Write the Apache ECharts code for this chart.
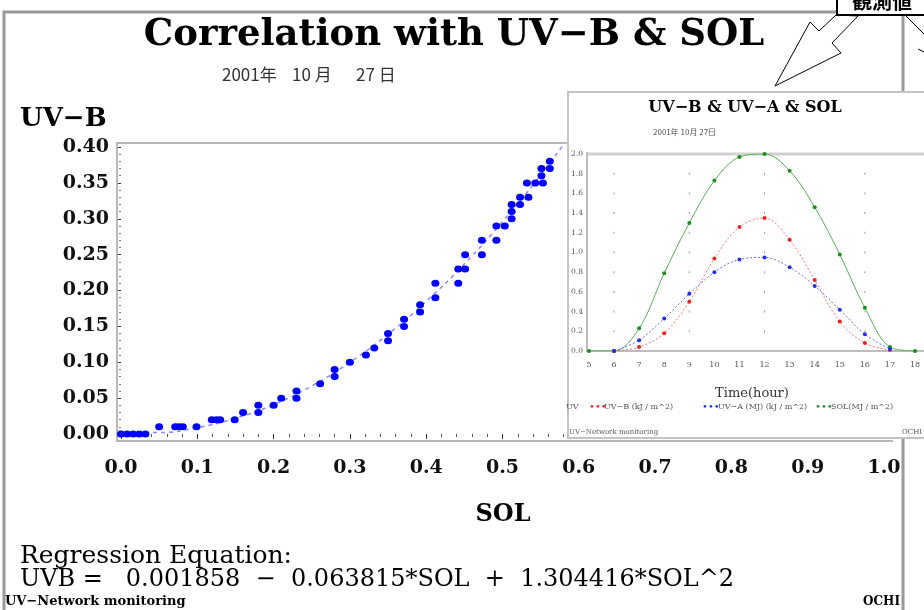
<!DOCTYPE html>
<html><head><meta charset="utf-8">
<script src="https://cdn.jsdelivr.net/npm/echarts@6/dist/echarts.min.js"></script>
<style>html,body{margin:0;padding:0;background:#fff}#c{width:924px;height:610px}</style>
</head><body><div id="c"></div>
<script>
// ---- main scatter: SOL vs UV-B ----
const solValues = [0.000,0.008,0.016,0.024,0.032,0.050,0.071,0.076,0.081,0.099,
  0.119,0.125,0.130,0.149,0.160,0.180,0.180,0.200,0.210,0.230,0.230,
  0.261,0.280,0.280,0.300,0.321,0.332,0.350,0.350,0.371,0.371,0.392,0.392,
  0.412,0.412,0.442,0.442,0.451,0.451,0.473,0.473,0.492,0.492,0.503,
  0.512,0.512,0.512,0.523,0.523,0.534,0.532,0.543,0.553,0.551,0.551,0.562,0.562];
const uvbValues = [0.00,0.00,0.00,0.00,0.00,0.01,0.01,0.01,0.01,0.01,
  0.02,0.02,0.02,0.02,0.03,0.03,0.04,0.04,0.05,0.05,0.06,
  0.07,0.08,0.09,0.10,0.11,0.12,0.13,0.14,0.15,0.16,0.17,0.18,
  0.19,0.21,0.21,0.23,0.23,0.25,0.25,0.27,0.27,0.29,0.29,
  0.30,0.31,0.32,0.32,0.33,0.33,0.35,0.35,0.35,0.36,0.37,0.37,0.38];
// dashed regression curve
const fitSol = [0.00,0.05,0.10,0.15,0.20,0.25,0.30,0.35,0.40,0.45,0.50,0.55,0.60];
const fitUvb = [0.002,0.002,0.009,0.022,0.041,0.067,0.100,0.139,0.185,0.237,0.296,0.361,0.433];

// ---- inset: hourly UV-B / UV-A / SOL ----
const hours = [5,6,7,8,9,10,11,12,13,14,15,16,17,18];
const uvbHourly = [null,0.00,0.04,0.18,0.50,0.94,1.26,1.35,1.13,0.72,0.30,0.08,0.01,null];
const uvaHourly = [null,0.00,0.11,0.33,0.58,0.80,0.93,0.95,0.85,0.66,0.42,0.17,0.02,null];
const solHourly = [0.00,0.00,0.23,0.79,1.30,1.73,1.97,2.00,1.83,1.46,0.98,0.44,0.04,0.00];
const insetGridHours = [6,9,12,16];
const insetGridLevels = [0.2,0.4,0.6,0.8,1.0,1.2,1.4,1.6,1.8];

const serif = '"DejaVu Serif","Liberation Serif",serif';
const cjk = '"Noto Sans CJK JP","Noto Sans CJK SC",sans-serif';

const chart = echarts.init(document.getElementById('c'));
const mainPts = solValues.map((s,i)=>[s, uvbValues[i]]);
const fitPts = fitSol.map((s,i)=>[s, fitUvb[i]]);
const pair = arr => hours.map((h,i)=>[h, arr[i]]);
const gridDots = [];
insetGridHours.forEach(h=>insetGridLevels.forEach(v=>gridDots.push([h,v])));

function txt(text, x, y, size, opts){
  opts = opts || {};
  return {type:'text', z: opts.z || 5, silent:true, style:{text:text, x:x, y:y,
    font:(opts.bold?'bold ':'') + size + 'px ' + (opts.family||serif),
    fill: opts.fill || '#000', align: opts.align||'left', verticalAlign: opts.va||'middle'}};
}

const option = {
  animation:false,
  backgroundColor:'#fff',
  grid:[
    {left:121, top:147, width:763, height:287},
    {left:589, top:154, width:326, height:197, z:20}
  ],
  xAxis:[
    {gridIndex:0, type:'value', min:0, max:1, interval:0.1, offset:7,
     axisLine:{show:false}, splitLine:{show:false},
     axisTick:{show:true, length:5, lineStyle:{color:'#333'}},
     minorTick:{show:true, splitNumber:5, length:3, lineStyle:{color:'#555'}},
     axisLabel:{margin:18, fontFamily:serif, fontWeight:'bold', fontSize:19, color:'#111',
       formatter:v=>v.toFixed(1)}},
    {gridIndex:1, type:'value', min:5, max:18, interval:1, z:22,
     axisLine:{show:false},
     splitLine:{show:false},
     axisTick:{show:false},
     axisLabel:{margin:10, fontFamily:serif, fontSize:8, color:'#555'},
     name:'Time(hour)', nameLocation:'middle', nameGap:36,
     nameTextStyle:{fontFamily:serif, fontSize:13, color:'#333'}}
  ],
  yAxis:[
    {gridIndex:0, type:'value', min:0, max:0.4, interval:0.05, offset:4,
     axisLine:{show:false}, splitLine:{show:false},
     axisTick:{show:true, length:4, lineStyle:{color:'#333'}},
     minorTick:{show:true, splitNumber:5, length:2, lineStyle:{color:'#777'}},
     axisLabel:{margin:8, fontFamily:serif, fontWeight:'bold', fontSize:19, color:'#111',
       formatter:v=>v.toFixed(2)}},
    {gridIndex:1, type:'value', min:0, max:2, interval:0.2, z:22,
     axisLine:{show:false},
     splitLine:{show:false}, axisTick:{show:false},
     axisLabel:{margin:6, fontFamily:serif, fontSize:7.5, color:'#555',
       formatter:v=>v.toFixed(1)}}
  ],
  series:[
    {type:'line', xAxisIndex:0, yAxisIndex:0, data:fitPts, smooth:true, symbol:'none',
     lineStyle:{color:'#8a8aff', width:1.5, type:[4,4]}, z:2, silent:true},
    {type:'scatter', xAxisIndex:0, yAxisIndex:0, data:mainPts, symbol:'circle',
     symbolSize:[8,7], itemStyle:{color:'#0000ff', opacity:1}, clip:false, z:3},
    {type:'scatter', xAxisIndex:1, yAxisIndex:1, data:gridDots, symbol:'rect',
     symbolSize:[1,2], itemStyle:{color:'#999', opacity:1}, z:22, silent:true},
    {type:'line', xAxisIndex:1, yAxisIndex:1, data:pair(solHourly), smooth:0.35,
     symbol:'circle', symbolSize:4, itemStyle:{color:'#1a8f1a', opacity:1},
     lineStyle:{color:'#55b055', width:1}, z:23},
    {type:'line', xAxisIndex:1, yAxisIndex:1, data:pair(uvbHourly), smooth:0.35,
     symbol:'circle', symbolSize:4, itemStyle:{color:'#ee2020', opacity:1},
     lineStyle:{color:'#ff7070', width:1, type:[2,2]}, z:23},
    {type:'line', xAxisIndex:1, yAxisIndex:1, data:pair(uvaHourly), smooth:0.35,
     symbol:'circle', symbolSize:4, itemStyle:{color:'#2030ee', opacity:1},
     lineStyle:{color:'#6a6aff', width:1, type:[2,2]}, z:23}
  ],
  graphic:[
    // outer frame
    {type:'rect', z:1, silent:true, shape:{x:4,y:12,width:899,height:600},
     style:{fill:'none', stroke:'#9a9a9a', lineWidth:3}},
    // main plot frame lines
    {type:'polyline', z:1, silent:true, shape:{points:[[570,143],[117,143],[117,441],[893,441]]},
     style:{fill:'none', stroke:'#b8b8b8', lineWidth:2}},
    txt('Correlation with UV\u2212B & SOL', 454, 35, 37, {bold:true, align:'center'}),
    txt('2001年', 222, 75, 17, {family:cjk, fill:'#333'}),
    txt('10 月', 292, 75, 17, {family:cjk, fill:'#333'}),
    txt('27 日', 356, 75, 17, {family:cjk, fill:'#333'}),
    txt('UV\u2212B', 20, 119, 26, {bold:true}),
    txt('SOL', 503, 515, 24, {bold:true, align:'center'}),
    txt('Regression Equation:', 20, 556, 25, {}),
    txt('UVB =   0.001858  \u2212  0.063815*SOL  +  1.304416*SOL^2', 20, 580, 24, {}),
    txt('UV\u2212Network monitoring', 5, 602, 13, {bold:true}),
    txt('OCHI', 900, 602, 12, {bold:true, align:'right'}),
    // inset panel
    {type:'rect', z:10, silent:true, shape:{x:568,y:92,width:360,height:346},
     style:{fill:'#fff', stroke:'#c4c4c4', lineWidth:2}},
    {type:'line', z:21, silent:true, shape:{x1:587,y1:154,x2:926,y2:154},
     style:{stroke:'#d0d0d0', lineWidth:3}},
    {type:'line', z:21, silent:true, shape:{x1:587,y1:351,x2:926,y2:351},
     style:{stroke:'#bdbdbd', lineWidth:2}},
    {type:'line', z:21, silent:true, shape:{x1:587,y1:152,x2:587,y2:352},
     style:{stroke:'#bdbdbd', lineWidth:2}},
    txt('UV\u2212B & UV\u2212A & SOL', 745, 108, 16, {bold:true, align:'center', z:21}),
    txt('2001年 10月 27日', 653, 132, 8, {family:cjk, fill:'#555', z:21}),
    txt('UV', 566, 407, 8, {fill:'#555', z:21}),
    txt('\u2022\u2022\u2022', 589, 407, 10, {fill:'#ee2020', z:21}),
    txt('UV\u2212B (kJ / m^2)', 604, 407, 8, {fill:'#555', z:21}),
    txt('\u2022\u2022\u2022', 702, 407, 10, {fill:'#2030ee', z:21}),
    txt('UV\u2212A (MJ) (kJ / m^2)', 718, 407, 8, {fill:'#555', z:21}),
    txt('\u2022\u2022\u2022', 815, 407, 10, {fill:'#1a8f1a', z:21}),
    txt('SOL(MJ / m^2)', 831, 407, 8, {fill:'#555', z:21}),
    txt('UV\u2212Network monitoring', 569, 432, 7, {fill:'#555', z:21}),
    txt('OCHI', 922, 432, 7, {fill:'#555', align:'right', z:21}),
    // callout box + arrows
    {type:'rect', z:30, silent:true, shape:{x:837,y:-4,width:100,height:19},
     style:{fill:'#fff', stroke:'#000', lineWidth:2}},
    txt('観測値', 852, 11, 20, {bold:true, family:cjk, va:'bottom', z:31}),
    {type:'polygon', z:29, silent:true,
     shape:{points:[[836,15],[819,31],[810,22],[775,86],[841,53],[832,43],[858,16]]},
     style:{fill:'#fff', stroke:'#000', lineWidth:1}},
    {type:'polyline', z:29, silent:true, shape:{points:[[906,16],[924,34]]},
     style:{fill:'none', stroke:'#000', lineWidth:1}},
    {type:'polyline', z:29, silent:true, shape:{points:[[918,49],[924,52]]},
     style:{fill:'none', stroke:'#000', lineWidth:1}}
  ]
};
chart.setOption(option);
</script></body></html>
